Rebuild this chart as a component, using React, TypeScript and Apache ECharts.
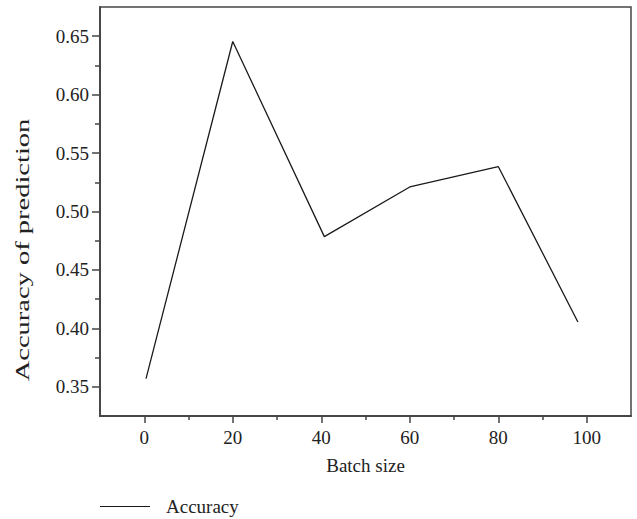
import React, { useEffect, useRef } from "react";
import * as echarts from "echarts";

const batchSizes = [0.4, 20, 40.7, 60, 80, 98];
const accuracy = [0.357, 0.6455, 0.4785, 0.521, 0.5385, 0.4055];
const xMajorTicks = [0, 20, 40, 60, 80, 100];
const xMinorTicks = [10, 30, 50, 70, 90];
const yMajorTicks = [0.35, 0.4, 0.45, 0.5, 0.55, 0.6, 0.65];
const yMinorTicks = [0.375, 0.425, 0.475, 0.525, 0.575, 0.625];

const FONT = "Liberation Serif";
const AXIS_COLOR = "#444";
const TEXT_COLOR = "#222";

export default function App() {
  const ref = useRef<HTMLDivElement>(null);
  useEffect(() => {
    if (!ref.current) return;
    const chart = echarts.init(ref.current, undefined, { renderer: "svg" });
    const xBase = {
      type: "value" as const,
      min: -10,
      max: 110,
      position: "bottom" as const,
      splitLine: { show: false },
      axisLine: { show: true, onZero: false, lineStyle: { color: AXIS_COLOR, width: 1.5 } },
    };
    const yBase = {
      type: "value" as const,
      min: 0.325,
      max: 0.675,
      position: "left" as const,
      splitLine: { show: false },
      axisLine: { show: true, onZero: false, lineStyle: { color: AXIS_COLOR, width: 1.5 } },
    };
    chart.setOption({
      animation: false,
      grid: {
        left: 100,
        top: 7,
        right: 6,
        bottom: 103,
        show: true,
        borderColor: AXIS_COLOR,
        borderWidth: 1.5,
      },
      legend: {
        left: 95,
        top: 492,
        itemWidth: 50,
        itemHeight: 20,
        textStyle: { fontFamily: FONT, fontSize: 19, color: TEXT_COLOR, padding: [0, 0, 0, 11] },
        data: [{ name: "Accuracy", icon: "path://M0,10L50,10L50,11L0,11Z" }],
      },
      xAxis: [
        {
          ...xBase,
          name: "Batch size",
          nameLocation: "middle",
          nameGap: 40,
          nameTextStyle: { fontFamily: FONT, fontSize: 19, color: TEXT_COLOR },
          axisTick: { show: true, customValues: xMajorTicks, length: 7, lineStyle: { color: AXIS_COLOR, width: 1.5 } },
          axisLabel: {
            show: true,
            customValues: xMajorTicks,
            margin: 12,
            fontFamily: FONT,
            fontSize: 19,
            color: TEXT_COLOR,
          },
        },
        {
          ...xBase,
          axisTick: { show: true, customValues: xMinorTicks, length: 4, lineStyle: { color: AXIS_COLOR, width: 1.5 } },
          axisLabel: { show: false },
        },
      ],
      yAxis: [
        {
          ...yBase,
          axisTick: { show: true, customValues: yMajorTicks, length: 8, lineStyle: { color: AXIS_COLOR, width: 1.5 } },
          axisLabel: {
            show: true,
            customValues: yMajorTicks,
            margin: 11,
            fontFamily: FONT,
            fontSize: 19,
            color: TEXT_COLOR,
            formatter: (v: number) => v.toFixed(2),
          },
        },
        {
          ...yBase,
          axisTick: { show: true, customValues: yMinorTicks, length: 5, lineStyle: { color: AXIS_COLOR, width: 1.5 } },
          axisLabel: { show: false },
        },
      ],
      graphic: [
        {
          type: "text",
          x: 22,
          y: 250,
          rotation: Math.PI / 2,
          scaleX: 1.5,
          style: {
            text: "Accuracy of prediction",
            fontFamily: FONT,
            fontSize: 19,
            fill: TEXT_COLOR,
            align: "center",
            verticalAlign: "middle",
          },
        },
      ],
      series: [
        {
          name: "Accuracy",
          type: "line",
          xAxisIndex: 0,
          yAxisIndex: 0,
          data: batchSizes.map((x, i) => [x, accuracy[i]]),
          showSymbol: false,
          symbol: "none",
          lineStyle: { color: "#1a1a1a", width: 1.3 },
          itemStyle: { color: "#1a1a1a" },
        },
      ],
    });
    return () => chart.dispose();
  }, []);
  return <div ref={ref} style={{ width: 637, height: 519, position: "absolute", left: 0, top: 0 }} />;
}
